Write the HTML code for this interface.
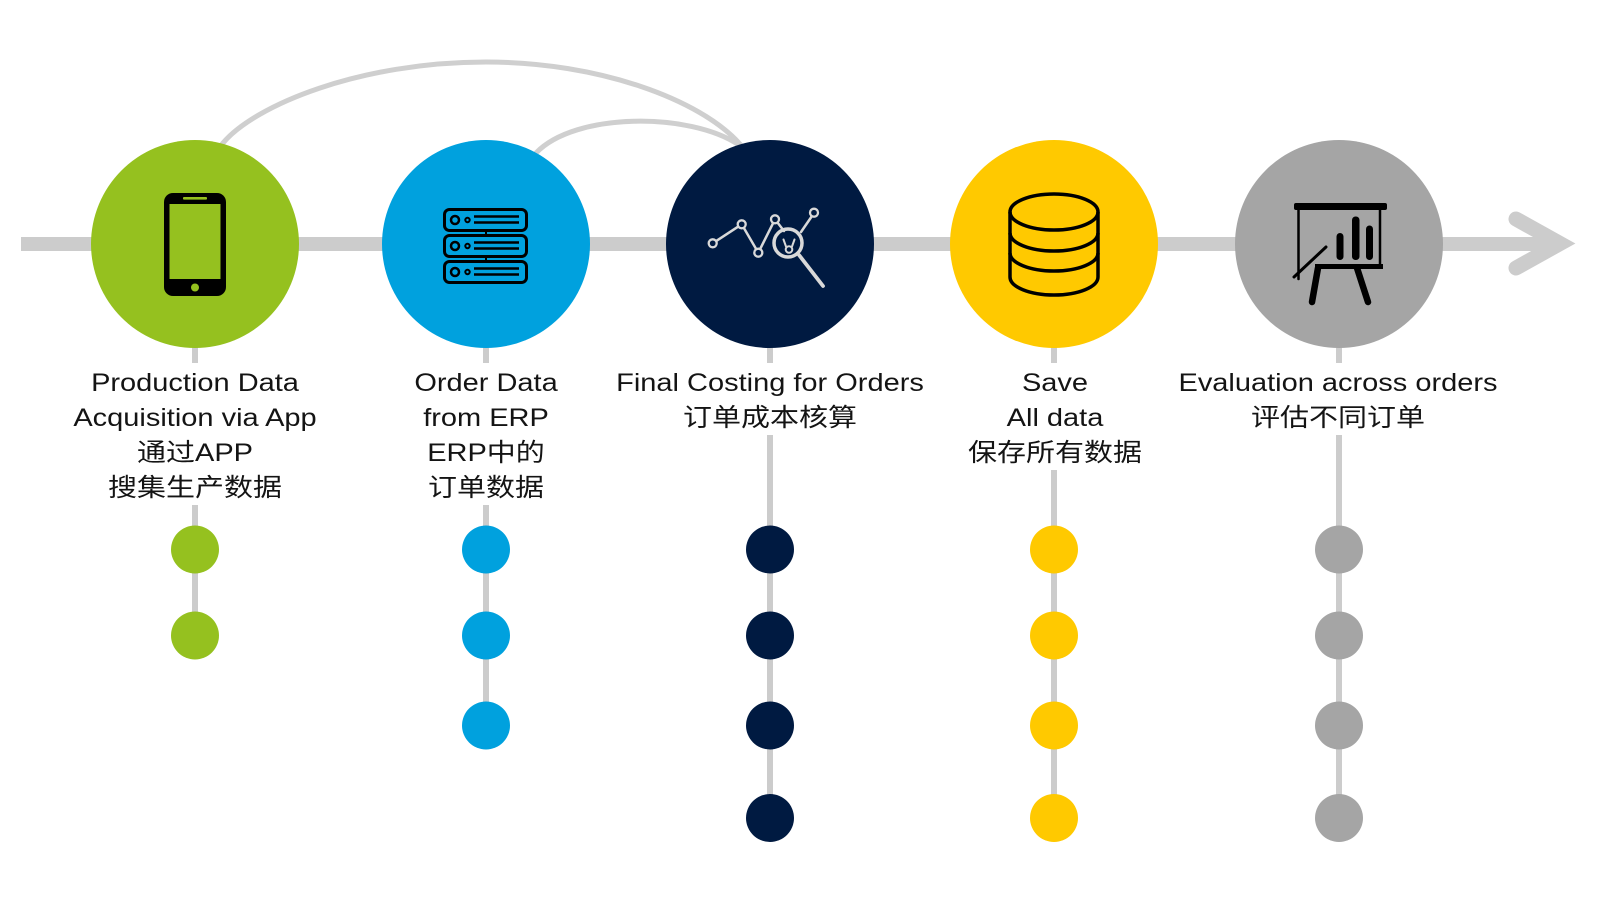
<!DOCTYPE html>
<html>
<head>
<meta charset="utf-8">
<style>
  html,body{margin:0;padding:0;background:#fff;}
  body{width:1600px;height:900px;overflow:hidden;}
  svg{display:block;}
  .t{font-family:"Liberation Sans","Noto Sans CJK SC",sans-serif;font-size:25px;fill:#141414;}
</style>
</head>
<body>
<svg width="1600" height="900" viewBox="0 0 1600 900" xmlns="http://www.w3.org/2000/svg">
  <!-- arcs -->
  <path d="M214,154 L223,143 C255,105 360,62 486,62 C600,62 700,100 739,143 L746,151" stroke="#cfcfcf" stroke-width="5" fill="none"/>
  <path d="M530,160 L536,153 C575,112 690,112 739,145 L746,150" stroke="#cfcfcf" stroke-width="5" fill="none"/>

  <!-- main line and arrow -->
  <rect x="21" y="237" width="1535" height="14" fill="#cccccc"/>
  <polyline points="1516,219 1560,243.5 1516,268" fill="none" stroke="#cccccc" stroke-width="15" stroke-linecap="round" stroke-linejoin="miter" stroke-miterlimit="6"/>

  <!-- vertical connectors -->
  <g fill="#cccccc">
    <rect x="192" y="336" width="6" height="27"/>
    <rect x="483" y="336" width="6" height="27"/>
    <rect x="767" y="336" width="6" height="27"/>
    <rect x="1051" y="336" width="6" height="27"/>
    <rect x="1336" y="336" width="6" height="27"/>

    <rect x="192" y="505" width="6" height="130"/>
    <rect x="483" y="505" width="6" height="220"/>
    <rect x="767" y="435" width="6" height="383"/>
    <rect x="1051" y="470" width="6" height="348"/>
    <rect x="1336" y="435" width="6" height="383"/>
  </g>

  <!-- big circles -->
  <circle cx="195" cy="244" r="104" fill="#95c11f"/>
  <circle cx="486" cy="244" r="104" fill="#00a1de"/>
  <circle cx="770" cy="244" r="104" fill="#001a41"/>
  <circle cx="1054" cy="244" r="104" fill="#ffc900"/>
  <circle cx="1339" cy="244" r="104" fill="#a5a5a5"/>

  <!-- phone icon -->
  <rect x="164" y="193" width="62" height="103" rx="9" fill="#000"/>
  <rect x="169.5" y="204" width="51" height="75" fill="#95c11f"/>
  <rect x="183" y="197" width="24" height="2.6" rx="1" fill="#95c11f"/>
  <circle cx="195" cy="287.5" r="4" fill="#95c11f"/>

  <!-- server icon -->
  <g stroke="#000" fill="none">
    <rect x="444.5" y="209.5" width="82" height="21" rx="5" stroke-width="3"/>
    <rect x="444.5" y="235.5" width="82" height="21" rx="5" stroke-width="3"/>
    <rect x="444.5" y="261.5" width="82" height="21" rx="5" stroke-width="3"/>
    <line x1="486" y1="230.5" x2="486" y2="235.5" stroke-width="2"/>
    <line x1="486" y1="256.5" x2="486" y2="261.5" stroke-width="2"/>
    <circle cx="455" cy="220" r="4" stroke-width="2.5"/>
    <circle cx="467.5" cy="220" r="2.2" stroke-width="2"/>
    <circle cx="455" cy="246" r="4" stroke-width="2.5"/>
    <circle cx="467.5" cy="246" r="2.2" stroke-width="2"/>
    <circle cx="455" cy="272" r="4" stroke-width="2.5"/>
    <circle cx="467.5" cy="272" r="2.2" stroke-width="2"/>
    <g stroke-width="2.5">
      <line x1="474" y1="216.5" x2="519" y2="216.5"/>
      <line x1="474" y1="222.5" x2="519" y2="222.5"/>
      <line x1="474" y1="242.5" x2="519" y2="242.5"/>
      <line x1="474" y1="248.5" x2="519" y2="248.5"/>
      <line x1="474" y1="268.5" x2="519" y2="268.5"/>
      <line x1="474" y1="274.5" x2="519" y2="274.5"/>
    </g>
  </g>

  <!-- chart/magnifier icon -->
  <g stroke="#d9d9d9" fill="none" stroke-width="2.5" stroke-linecap="round">
    <polyline points="712.7,243.3 741.7,224.3 758.3,252.7 775,219.3 784,231"/>
    <line x1="801" y1="232" x2="812" y2="216"/>
    <circle cx="788" cy="243" r="14" stroke-width="3.5"/>
    <line x1="799" y1="255" x2="823" y2="286" stroke-width="3.8"/>
    <circle cx="789" cy="249.5" r="3.3" stroke-width="2"/>
    <line x1="786" y1="246.5" x2="783.5" y2="239.5" stroke-width="2"/>
    <line x1="792" y1="246.5" x2="794.5" y2="239.5" stroke-width="2"/>
  </g>
  <g stroke="#d9d9d9" fill="#001a41" stroke-width="2.3">
    <circle cx="712.7" cy="243.3" r="4"/>
    <circle cx="741.7" cy="224.3" r="4"/>
    <circle cx="758.3" cy="252.7" r="4"/>
    <circle cx="775" cy="219.3" r="4"/>
    <circle cx="814" cy="212.7" r="4"/>
  </g>

  <!-- database icon -->
  <g stroke="#000" stroke-width="3.5" fill="none">
    <ellipse cx="1054" cy="212" rx="44" ry="18"/>
    <line x1="1010" y1="212" x2="1010" y2="277"/>
    <line x1="1098" y1="212" x2="1098" y2="277"/>
    <path d="M1010,233 A44,18 0 0 0 1098,233"/>
    <path d="M1010,253 A44,18 0 0 0 1098,253"/>
    <path d="M1010,277 A44,18 0 0 0 1098,277"/>
  </g>

  <!-- easel icon -->
  <g fill="#000">
    <rect x="1294" y="203" width="93" height="7" rx="2"/>
    <rect x="1315" y="264" width="68" height="5"/>
    <rect x="1336.5" y="233" width="7" height="27" rx="3.5"/>
    <rect x="1352" y="216.5" width="7.5" height="43.5" rx="3.5"/>
    <rect x="1366" y="225.5" width="7" height="34.5" rx="3.5"/>
  </g>
  <g stroke="#000" stroke-linecap="round" fill="none">
    <line x1="1298.5" y1="208" x2="1298.5" y2="279" stroke-width="2.5"/>
    <line x1="1380" y1="208" x2="1380" y2="267" stroke-width="2.5"/>
    <line x1="1294" y1="277" x2="1326" y2="247" stroke-width="3"/>
    <line x1="1318" y1="268" x2="1312" y2="302" stroke-width="6.5"/>
    <line x1="1357" y1="268" x2="1368" y2="302" stroke-width="6.5"/>
  </g>

  <!-- dots -->
  <g fill="#95c11f">
    <circle cx="195" cy="549.5" r="24"/>
    <circle cx="195" cy="635.5" r="24"/>
  </g>
  <g fill="#00a1de">
    <circle cx="486" cy="549.5" r="24"/>
    <circle cx="486" cy="635.5" r="24"/>
    <circle cx="486" cy="725.5" r="24"/>
  </g>
  <g fill="#001a41">
    <circle cx="770" cy="549.5" r="24"/>
    <circle cx="770" cy="635.5" r="24"/>
    <circle cx="770" cy="725.5" r="24"/>
    <circle cx="770" cy="818" r="24"/>
  </g>
  <g fill="#ffc900">
    <circle cx="1054" cy="549.5" r="24"/>
    <circle cx="1054" cy="635.5" r="24"/>
    <circle cx="1054" cy="725.5" r="24"/>
    <circle cx="1054" cy="818" r="24"/>
  </g>
  <g fill="#a5a5a5">
    <circle cx="1339" cy="549.5" r="24"/>
    <circle cx="1339" cy="635.5" r="24"/>
    <circle cx="1339" cy="725.5" r="24"/>
    <circle cx="1339" cy="818" r="24"/>
  </g>

  <!-- labels -->
  <g class="t" text-anchor="middle">
    <g transform="translate(195,0) scale(1.16,1)">
      <text x="0" y="391">Production Data</text>
      <text x="0" y="426">Acquisition via App</text>
      <text x="0" y="461">通过APP</text>
      <text x="0" y="496">搜集生产数据</text>
    </g>
    <g transform="translate(486,0) scale(1.16,1)">
      <text x="0" y="391">Order Data</text>
      <text x="0" y="426">from ERP</text>
      <text x="0" y="461">ERP中的</text>
      <text x="0" y="496">订单数据</text>
    </g>
    <g transform="translate(770,0) scale(1.16,1)">
      <text x="0" y="391">Final Costing for Orders</text>
      <text x="0" y="426">订单成本核算</text>
    </g>
    <g transform="translate(1055,0) scale(1.16,1)">
      <text x="0" y="391">Save</text>
      <text x="0" y="426">All data</text>
      <text x="0" y="461">保存所有数据</text>
    </g>
    <g transform="translate(1338,0) scale(1.16,1)">
      <text x="0" y="391">Evaluation across orders</text>
      <text x="0" y="426">评估不同订单</text>
    </g>
  </g>
</svg>
</body>
</html>
